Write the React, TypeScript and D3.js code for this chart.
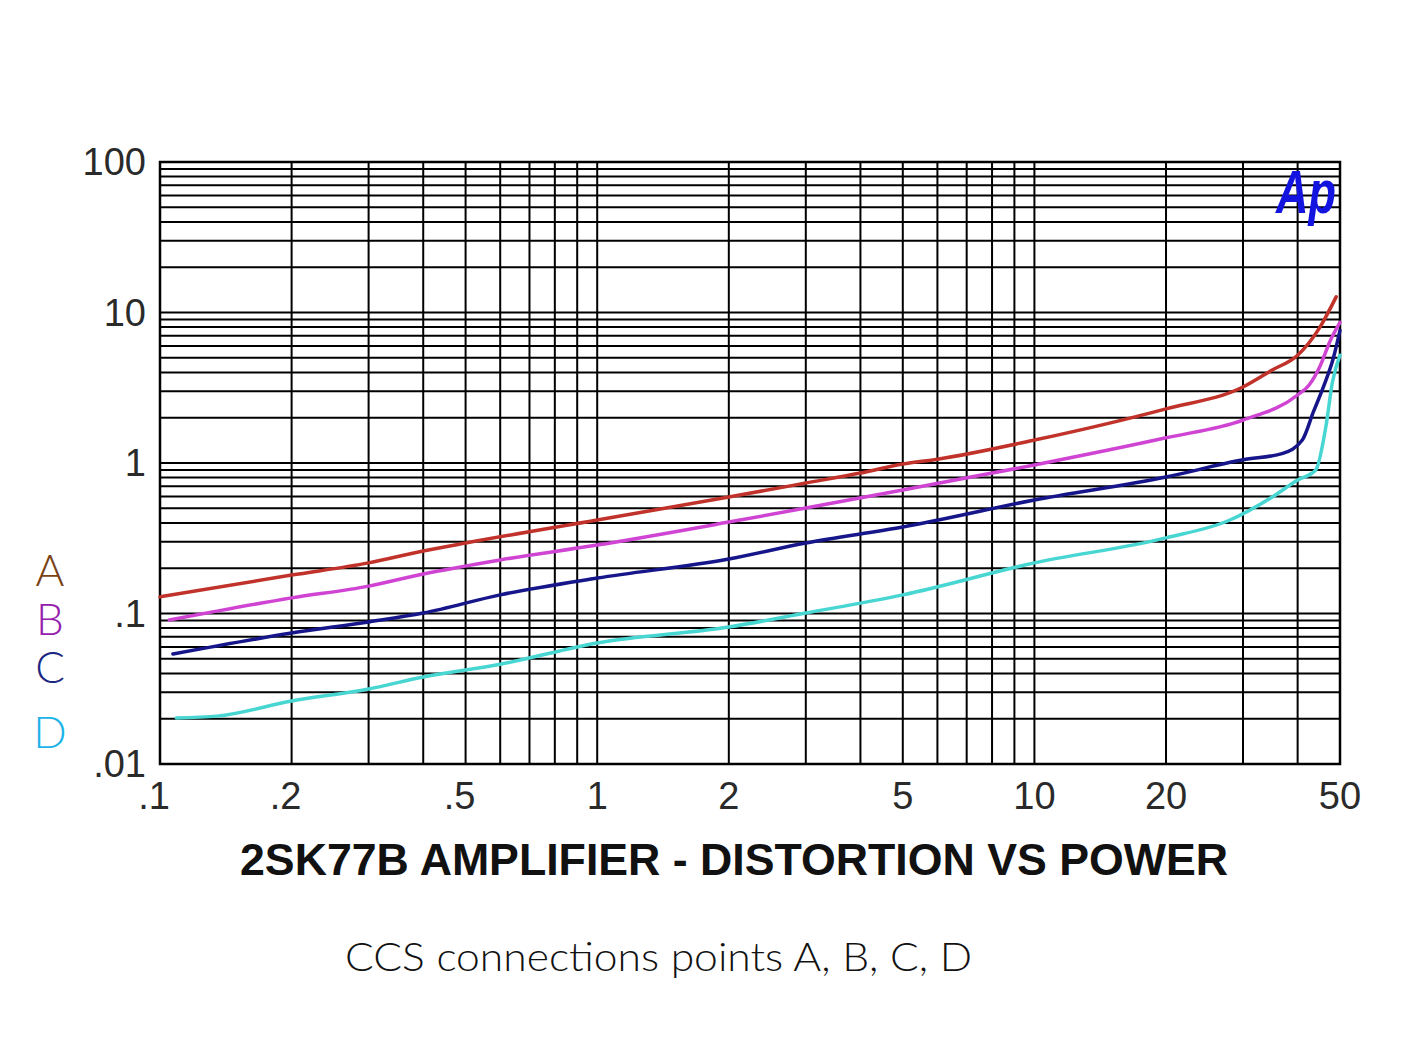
import React from "react";
import * as d3 from "d3";

const W = 1426;
const H = 1056;

// Data (power in W, THD in %)
const powerA = [0.1, 0.2, 0.3, 0.4, 0.5, 1, 2, 3, 4, 5, 6, 10, 20, 30, 35, 40, 45, 49];
const thdA = [0.129, 0.18, 0.217, 0.26, 0.294, 0.418, 0.594, 0.736, 0.858, 0.985, 1.06, 1.42, 2.29, 3.2, 4.15, 5.2, 8.0, 12.7];

const powerB = [0.105, 0.2, 0.3, 0.4, 0.6, 1, 2, 3, 5, 10, 20, 30, 40, 42.5, 45, 47.5, 50];
const thdB = [0.0905, 0.127, 0.152, 0.183, 0.227, 0.285, 0.405, 0.502, 0.662, 0.97, 1.47, 1.93, 2.83, 3.3, 4.4, 6.5, 8.6];

const powerC = [0.107, 0.2, 0.3, 0.4, 0.6, 1, 2, 3, 5, 10, 20, 30, 37, 41, 43.5, 46, 48.3, 50];
const thdC = [0.0538, 0.0741, 0.0879, 0.1007, 0.133, 0.172, 0.23, 0.294, 0.376, 0.568, 0.807, 1.05, 1.16, 1.42, 2.2, 3.3, 5.0, 7.6];

const powerD = [0.109, 0.135, 0.2, 0.3, 0.4, 0.6, 1, 2, 3, 5, 10, 20, 28, 35, 40, 44, 46.5, 48, 50];
const thdD = [0.0202, 0.0208, 0.0262, 0.0315, 0.0379, 0.046, 0.0637, 0.0813, 0.1007, 0.133, 0.217, 0.318, 0.418, 0.594, 0.771, 0.898, 1.8, 3.4, 5.2];

const xTickValues = [0.1, 0.2, 0.5, 1, 2, 5, 10, 20, 50];
const xTickLabels = [".1", ".2", ".5", "1", "2", "5", "10", "20", "50"];
const yTickValues = [100, 10, 1, 0.1, 0.01];
const yTickLabels = ["100", "10", "1", ".1", ".01"];

const seriesNames = ["A", "B", "C", "D"];
const lineColors = ["#c0322a", "#d044d4", "#16168a", "#48d6d2"];
const legendColors = ["#7a4214", "#9420ad", "#1a2882", "#1cb4e8"];

const titleText = "2SK77B AMPLIFIER - DISTORTION VS POWER";
const subtitleText = "CCS connections points A, B, C, D";

export default function App() {
  const x = d3.scaleLog().domain([0.1, 50]).range([160, 1340]);
  const y = d3.scaleLog().domain([0.01, 100]).range([764, 162]);

  const xGrid: number[] = [];
  for (let e = -1; e <= 1; e++) {
    for (let k = 1; k <= 9; k++) {
      const v = k * Math.pow(10, e);
      if (v <= 50.0001) xGrid.push(v);
    }
  }
  const yGrid: number[] = [];
  for (let e = -2; e <= 1; e++) {
    for (let k = 1; k <= 9; k++) yGrid.push(k * Math.pow(10, e));
  }
  yGrid.push(100);

  const series = [
    { p: powerA, t: thdA },
    { p: powerB, t: thdB },
    { p: powerC, t: thdC },
    { p: powerD, t: thdD },
  ];

  const line = d3
    .line<[number, number]>()
    .x((d) => x(d[0]))
    .y((d) => y(d[1]))
    .curve(d3.curveMonotoneX);

  const legendY = [586, 635, 683, 748];

  return (
    <svg
      width={W}
      height={H}
      style={{ position: "absolute", left: 0, top: 0, background: "#fff" }}
    >
      <rect x={0} y={0} width={W} height={H} fill="#fff" />
      {/* grid */}
      <g stroke="#000" strokeWidth={2}>
        {yGrid.map((v, i) => (
          <line key={"h" + i} x1={160} x2={1340} y1={y(v)} y2={y(v)} />
        ))}
        {xGrid.map((v, i) => (
          <line key={"v" + i} x1={x(v)} x2={x(v)} y1={162} y2={764} />
        ))}
      </g>
      <rect x={160} y={162} width={1180} height={602} fill="none" stroke="#000" strokeWidth={2.5} />

      {/* curves */}
      {series.map((s, i) => (
        <path
          key={"s" + i}
          d={line(s.p.map((p, j) => [p, s.t[j]] as [number, number])) || ""}
          fill="none"
          stroke={lineColors[i]}
          strokeWidth={3.5}
          strokeLinejoin="round"
          strokeLinecap="round"
        />
      ))}

      {/* Ap logo */}
      <text
        x={1276}
        y={213}
        fontFamily="Liberation Sans, Arial, sans-serif"
        fontWeight="bold"
        fontStyle="italic"
        fontSize={62}
        fill="#1414e0"
        textLength={60}
        lengthAdjust="spacingAndGlyphs"
      >
        Ap
      </text>

      {/* y tick labels */}
      {yTickValues.map((v, i) => (
        <text
          key={"yl" + i}
          x={146}
          y={y(v) + 13}
          textAnchor="end"
          fontFamily="Liberation Sans Narrow, Liberation Sans, Arial, sans-serif"
          fontSize={38}
          fill="#2a2a2a"
        >
          {yTickLabels[i]}
        </text>
      ))}

      {/* x tick labels */}
      {xTickValues.map((v, i) => (
        <text
          key={"xl" + i}
          x={x(v) - (xTickLabels[i].startsWith(".") ? 6 : 0)}
          y={809}
          textAnchor="middle"
          fontFamily="Liberation Sans Narrow, Liberation Sans, Arial, sans-serif"
          fontSize={38}
          fill="#2a2a2a"
        >
          {xTickLabels[i]}
        </text>
      ))}

      {/* title */}
      <text
        x={240}
        y={875}
        fontFamily="Liberation Sans, Arial, sans-serif"
        fontWeight="bold"
        fontSize={44}
        fill="#111"
        textLength={988}
        lengthAdjust="spacingAndGlyphs"
      >
        {titleText}
      </text>

      {/* subtitle */}
      <text
        x={345}
        y={971}
        fontFamily="Lato, Liberation Sans, Arial, sans-serif"
        fontWeight={300}
        fontSize={40}
        fill="#111"
        textLength={627}
        lengthAdjust="spacingAndGlyphs"
      >
        {subtitleText}
      </text>

      {/* legend letters */}
      {seriesNames.map((n, i) => (
        <text
          key={"lg" + i}
          x={50}
          y={legendY[i]}
          textAnchor="middle"
          fontFamily="Lato, Liberation Sans, Arial, sans-serif"
          fontWeight={300}
          fontSize={44}
          fill={legendColors[i]}
        >
          {n}
        </text>
      ))}
    </svg>
  );
}
